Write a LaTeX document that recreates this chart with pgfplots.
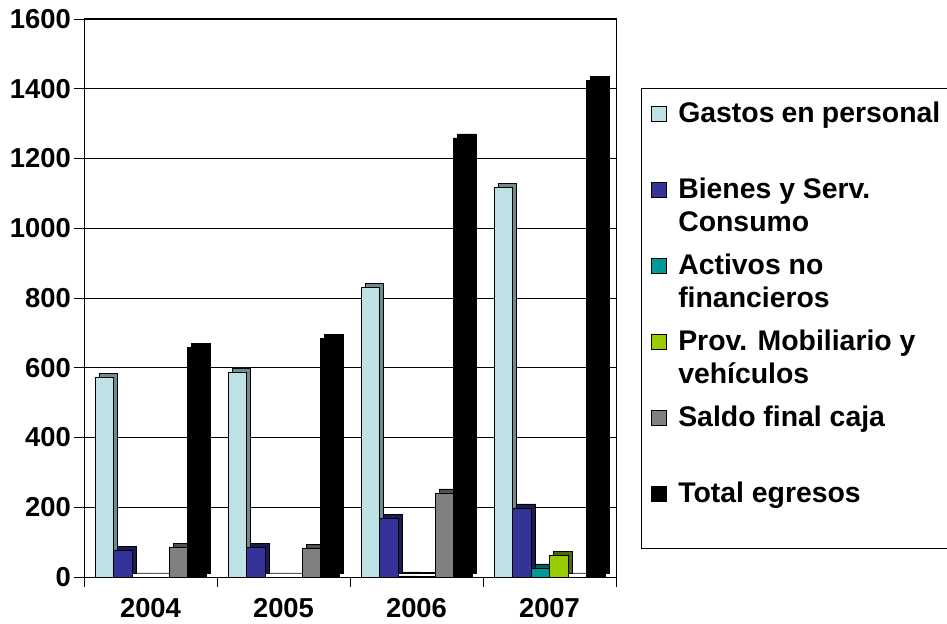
\documentclass[border=0pt]{standalone}
\usepackage{pgfplots}
\pgfplotsset{compat=1.18}
\usepackage{fontspec}
\setmainfont{Liberation Sans}
\definecolor{gastos}{RGB}{190,225,229}
\definecolor{gastosS}{RGB}{110,140,143}
\definecolor{bienes}{RGB}{51,51,153}
\definecolor{bienesS}{RGB}{28,28,80}
\definecolor{activos}{RGB}{0,153,153}
\definecolor{activosS}{RGB}{0,95,95}
\definecolor{prov}{RGB}{153,204,0}
\definecolor{provS}{RGB}{80,105,0}
\definecolor{saldo}{RGB}{128,128,128}
\definecolor{saldoS}{RGB}{80,80,80}
\newcommand{\LE}[1]{\parbox[t]{262bp}{\raggedright #1}}
\begin{document}
\begin{tikzpicture}
\useasboundingbox (0,0) rectangle (947bp,624bp);
\begin{axis}[
  at={(84bp,47bp)}, anchor=south west,
  scale only axis, width=532bp, height=558bp,
  ybar, bar width=18.5bp,
  xmin=-0.5, xmax=3.5, ymin=0, ymax=1600,
  ytick={0,200,...,1600},
  ymajorgrids, major grid style={black, line width=0.8pt},
  axis line style={black, line width=1pt},
  xtick={-0.5,0.5,1.5,2.5,3.5}, xticklabels={},
  extra x ticks={0,1,2,3}, extra x tick labels={2004,2005,2006,2007},
  extra x tick style={major tick length=0pt, grid=none},
  tick align=outside, tick pos=left,
  major tick length=10bp,
  tick style={black, line width=0.8pt},
  tick label style={font=\bfseries\fontsize{27.5}{31}\selectfont},
  /pgf/number format/assume math mode=true,
  /pgf/number format/1000 sep={},
  yticklabel style={inner xsep=3bp},
  xticklabel style={inner ysep=1bp, yshift=-20bp},
  every axis plot/.append style={draw=black, line width=0.8pt,
    legend image code/.code={\draw[##1,draw=black,line width=0.8pt] (0bp,1bp) rectangle (15bp,16bp);}},
  legend style={at={(1.047,0.8763)}, anchor=north west, draw=black, line width=1pt,
    inner xsep=9bp, inner ysep=9bp, font=\bfseries\fontsize{28.5}{33}\selectfont,
    cells={anchor=base west}, column sep=10bp, row sep=50bp},
]
% side/top faces (same data, shifted back)
\addplot[fill=gastosS, bar shift=-46.25bp, xshift=4bp, yshift=4bp, forget plot] coordinates {(0,571) (1,588) (2,829) (3,1118)};
\addplot[fill=bienesS, bar shift=-27.75bp, xshift=4bp, yshift=4bp, forget plot] coordinates {(0,77) (1,86) (2,169) (3,198)};
\addplot[fill=activosS, bar shift=-9.25bp, xshift=4bp, yshift=4bp, forget plot] coordinates {(0,0) (1,0) (2,3) (3,26)};
\addplot[fill=provS, bar shift=9.25bp, xshift=4bp, yshift=4bp, forget plot] coordinates {(0,0) (1,0) (2,1) (3,63)};
\addplot[fill=saldoS, bar shift=27.75bp, xshift=4bp, yshift=4bp, forget plot] coordinates {(0,86) (1,81) (2,241) (3,0)};
\addplot[fill=black, bar shift=46.25bp, xshift=4bp, yshift=4bp, forget plot] coordinates {(0,657) (1,685) (2,1259) (3,1425)};
% front faces
\addplot[fill=gastos, bar shift=-46.25bp] coordinates {(0,571) (1,588) (2,829) (3,1118)};
\addlegendentry[text height=23bp]{\LE{Gastos en personal}}
\addplot[fill=bienes, bar shift=-27.75bp] coordinates {(0,77) (1,86) (2,169) (3,198)};
\addlegendentry{\LE{Bienes y Serv.\newline Consumo}}
\addplot[fill=activos, bar shift=-9.25bp] coordinates {(0,0) (1,0) (2,3) (3,26)};
\addlegendentry{\LE{Activos no\newline financieros}}
\addplot[fill=prov, bar shift=9.25bp] coordinates {(0,0) (1,0) (2,1) (3,63)};
\addlegendentry{\LE{Prov. Mobiliario y\newline vehículos}}
\addplot[fill=saldo, bar shift=27.75bp] coordinates {(0,86) (1,81) (2,241) (3,0)};
\addlegendentry{\LE{Saldo final caja}}
\addplot[fill=black, bar shift=46.25bp] coordinates {(0,657) (1,685) (2,1259) (3,1425)};
\addlegendentry[text depth=35bp]{\LE{Total egresos}}
\end{axis}
\end{tikzpicture}
\end{document}
